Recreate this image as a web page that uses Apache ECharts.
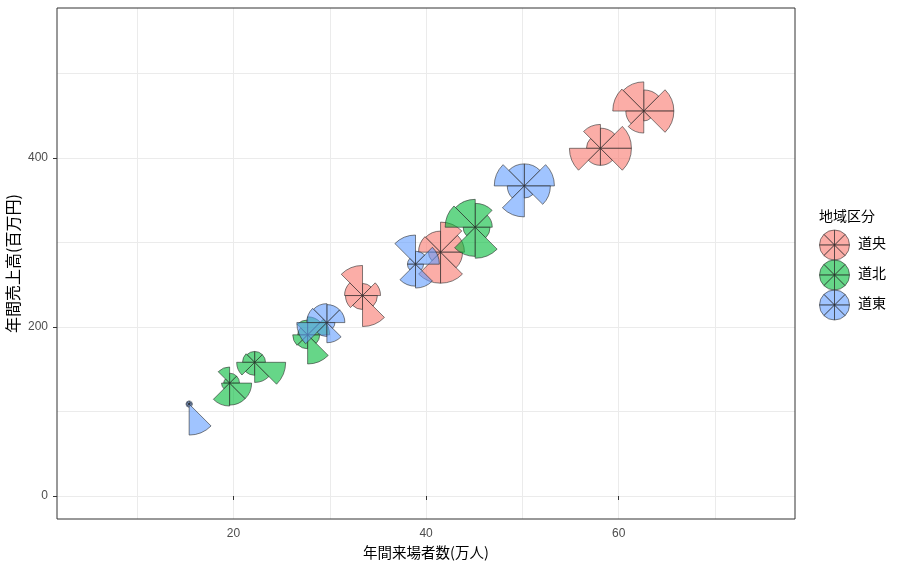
<!DOCTYPE html>
<html>
<head>
<meta charset="utf-8">
<script src="https://cdn.jsdelivr.net/npm/echarts@6/dist/echarts.min.js"></script>
<style>
html,body{margin:0;padding:0;background:#fff;}
#main{width:904px;height:569px;}
</style>
</head>
<body>
<div id="main"></div>
<script>
// ---- data ----
const regions = ['道央', '道北', '道東'];
const regionColors = ['#F8766D', '#00BA38', '#619CFF'];
const xTicks = [20, 40, 60];
const yTicks = [0, 200, 400];
const xGrid = [10, 20, 30, 40, 50, 60, 70];
const yGrid = [0, 100, 200, 300, 400, 500];

const region  = ['道央','道央','道央','道央','道北','道北','道北','道北','道東','道東','道東','道東'];
const visitors = [62.6, 58.1, 41.5, 33.4, 45.1, 27.7, 22.2, 19.6, 50.2, 38.9, 29.7, 15.4];
const sales    = [455.5, 411.4, 288.5, 237.2, 318.0, 190.7, 158.2, 133.6, 366.9, 274.3, 205.2, 108.8];
// glyph segment scores (8 variables, scaled 0-1)
const s1 = [0.97, 1.00, 0.77, 0.58, 0.55, 0.71, 0.35, 0.32, 0.97, 0.77, 0.58, 0.10];
const s2 = [0.68, 0.65, 0.97, 0.39, 0.77, 0.58, 0.35, 0.32, 0.71, 0.42, 0.58, 0.10];
const s3 = [0.94, 0.77, 0.68, 0.97, 0.90, 0.48, 0.35, 0.52, 0.71, 0.94, 0.61, 0.10];
const s4 = [1.00, 0.45, 0.71, 0.58, 0.97, 0.32, 0.39, 0.19, 0.97, 0.26, 0.65, 0.10];
const s5 = [0.58, 1.00, 0.39, 0.55, 0.39, 0.48, 0.58, 0.26, 0.55, 0.26, 0.97, 0.10];
const s6 = [0.71, 0.55, 1.00, 0.45, 0.94, 0.45, 0.42, 0.74, 1.00, 0.71, 0.45, 0.10];
const s7 = [0.32, 0.55, 1.00, 1.00, 1.00, 0.94, 0.65, 0.71, 0.39, 0.77, 0.65, 1.00];
const s8 = [0.97, 1.00, 0.71, 0.48, 0.48, 0.39, 1.00, 0.71, 0.84, 0.26, 0.26, 0.10];

// ---- drawing ----
const R = 31; // max glyph radius (px)
const STROKE = '#2b2b2b';
function hexA(hex, a) {
  const n = parseInt(hex.slice(1), 16);
  return 'rgba(' + ((n >> 16) & 255) + ',' + ((n >> 8) & 255) + ',' + (n & 255) + ',' + a + ')';
}
function glyphChildren(cx, cy, radii, fill) {
  const ch = [];
  for (let k = 0; k < 8; k++) {
    const a0 = k * Math.PI / 4, a1 = (k + 1) * Math.PI / 4;
    ch.push({
      type: 'sector',
      shape: { cx: cx, cy: cy, r0: 0, r: radii[k], startAngle: -a1, endAngle: -a0, clockwise: true },
      style: { fill: fill, stroke: STROKE, lineWidth: 0.6 }
    });
  }
  return ch;
}
function renderGlyph(params, api) {
  const c = api.coord([api.value(0), api.value(1)]);
  const radii = [];
  for (let k = 0; k < 8; k++) radii.push(api.value(2 + k) * R);
  const fill = hexA(regionColors[params.seriesIndex], 0.6);
  return { type: 'group', children: glyphChildren(c[0], c[1], radii, fill) };
}

const series = regions.map(function (name, ri) {
  const data = [];
  for (let i = 0; i < region.length; i++) {
    if (region[i] === name) data.push([visitors[i], sales[i], s1[i], s2[i], s3[i], s4[i], s5[i], s6[i], s7[i], s8[i]]);
  }
  return {
    type: 'custom', name: name, xAxisIndex: 0, yAxisIndex: 0,
    renderItem: renderGlyph,
    itemStyle: { color: regionColors[ri] },
    encode: { x: 0, y: 1 },
    dimensions: ['x', 'y', 'v1', 'v2', 'v3', 'v4', 'v5', 'v6', 'v7', 'v8'],
    data: data,
    z: 3
  };
});

// legend
const legendGraphics = [{
  type: 'text', left: 819, top: 209,
  style: { text: '地域区分', fontSize: 14, fill: '#000', fontFamily: '"Noto Sans CJK JP", sans-serif' }
}];
regions.forEach(function (name, i) {
  const cy = 245 + i * 30;
  const eq = [15, 15, 15, 15, 15, 15, 15, 15];
  legendGraphics.push({ type: 'group', children: glyphChildren(834.5, cy, eq, hexA(regionColors[i], 0.6)) });
  legendGraphics.push({
    type: 'text', left: 858, top: cy - 9,
    style: { text: name, fontSize: 14, fill: '#000', fontFamily: '"Noto Sans CJK JP", sans-serif' }
  });
});

const XMIN = 1.68, XMAX = 78.3, YMIN = -27.2, YMAX = 577.4;
const labelFont = 'Liberation Sans, Arial, sans-serif';
const titleFont = '"Noto Sans CJK JP", sans-serif';

const option = {
  animation: false,
  backgroundColor: '#fff',
  grid: { left: 57, right: 109, top: 8, bottom: 50, show: true, borderColor: '#333', borderWidth: 1,
          backgroundColor: 'transparent', z: 5, containLabel: false, outerBoundsMode: 'none' },
  xAxis: [
    { type: 'value', min: XMIN, max: XMAX, position: 'bottom',
      axisLine: { show: false },
      axisTick: { show: false, customValues: xGrid },
      axisLabel: { show: false },
      splitLine: { show: true, lineStyle: { color: '#EBEBEB', width: 1 } } },
    { type: 'value', min: XMIN, max: XMAX, position: 'bottom',
      axisLine: { show: false },
      axisTick: { show: true, customValues: xTicks, length: 4, lineStyle: { color: '#333', width: 1 } },
      axisLabel: { customValues: xTicks, color: '#4D4D4D', fontSize: 12, margin: 9, fontFamily: labelFont },
      splitLine: { show: false },
      name: '年間来場者数(万人)', nameLocation: 'middle', nameGap: 24,
      nameTextStyle: { fontSize: 14.5, color: '#000', fontFamily: titleFont } }
  ],
  yAxis: [
    { type: 'value', min: YMIN, max: YMAX, position: 'left',
      axisLine: { show: false },
      axisTick: { show: false, customValues: yGrid },
      axisLabel: { show: false },
      splitLine: { show: true, lineStyle: { color: '#EBEBEB', width: 1 } } },
    { type: 'value', min: YMIN, max: YMAX, position: 'left',
      axisLine: { show: false },
      axisTick: { show: true, customValues: yTicks, length: 4, lineStyle: { color: '#333', width: 1 } },
      axisLabel: { customValues: yTicks, color: '#4D4D4D', fontSize: 12, margin: 9, fontFamily: labelFont },
      splitLine: { show: false },
      name: '年間売上高(百万円)', nameLocation: 'middle', nameGap: 36, nameMoveOverlap: false,
      nameTextStyle: { fontSize: 16, color: '#000', fontFamily: titleFont } }
  ],
  series: series,
  graphic: legendGraphics
};

const chart = echarts.init(document.getElementById('main'), null, { renderer: 'canvas' });
chart.setOption(option);
</script>
</body>
</html>
